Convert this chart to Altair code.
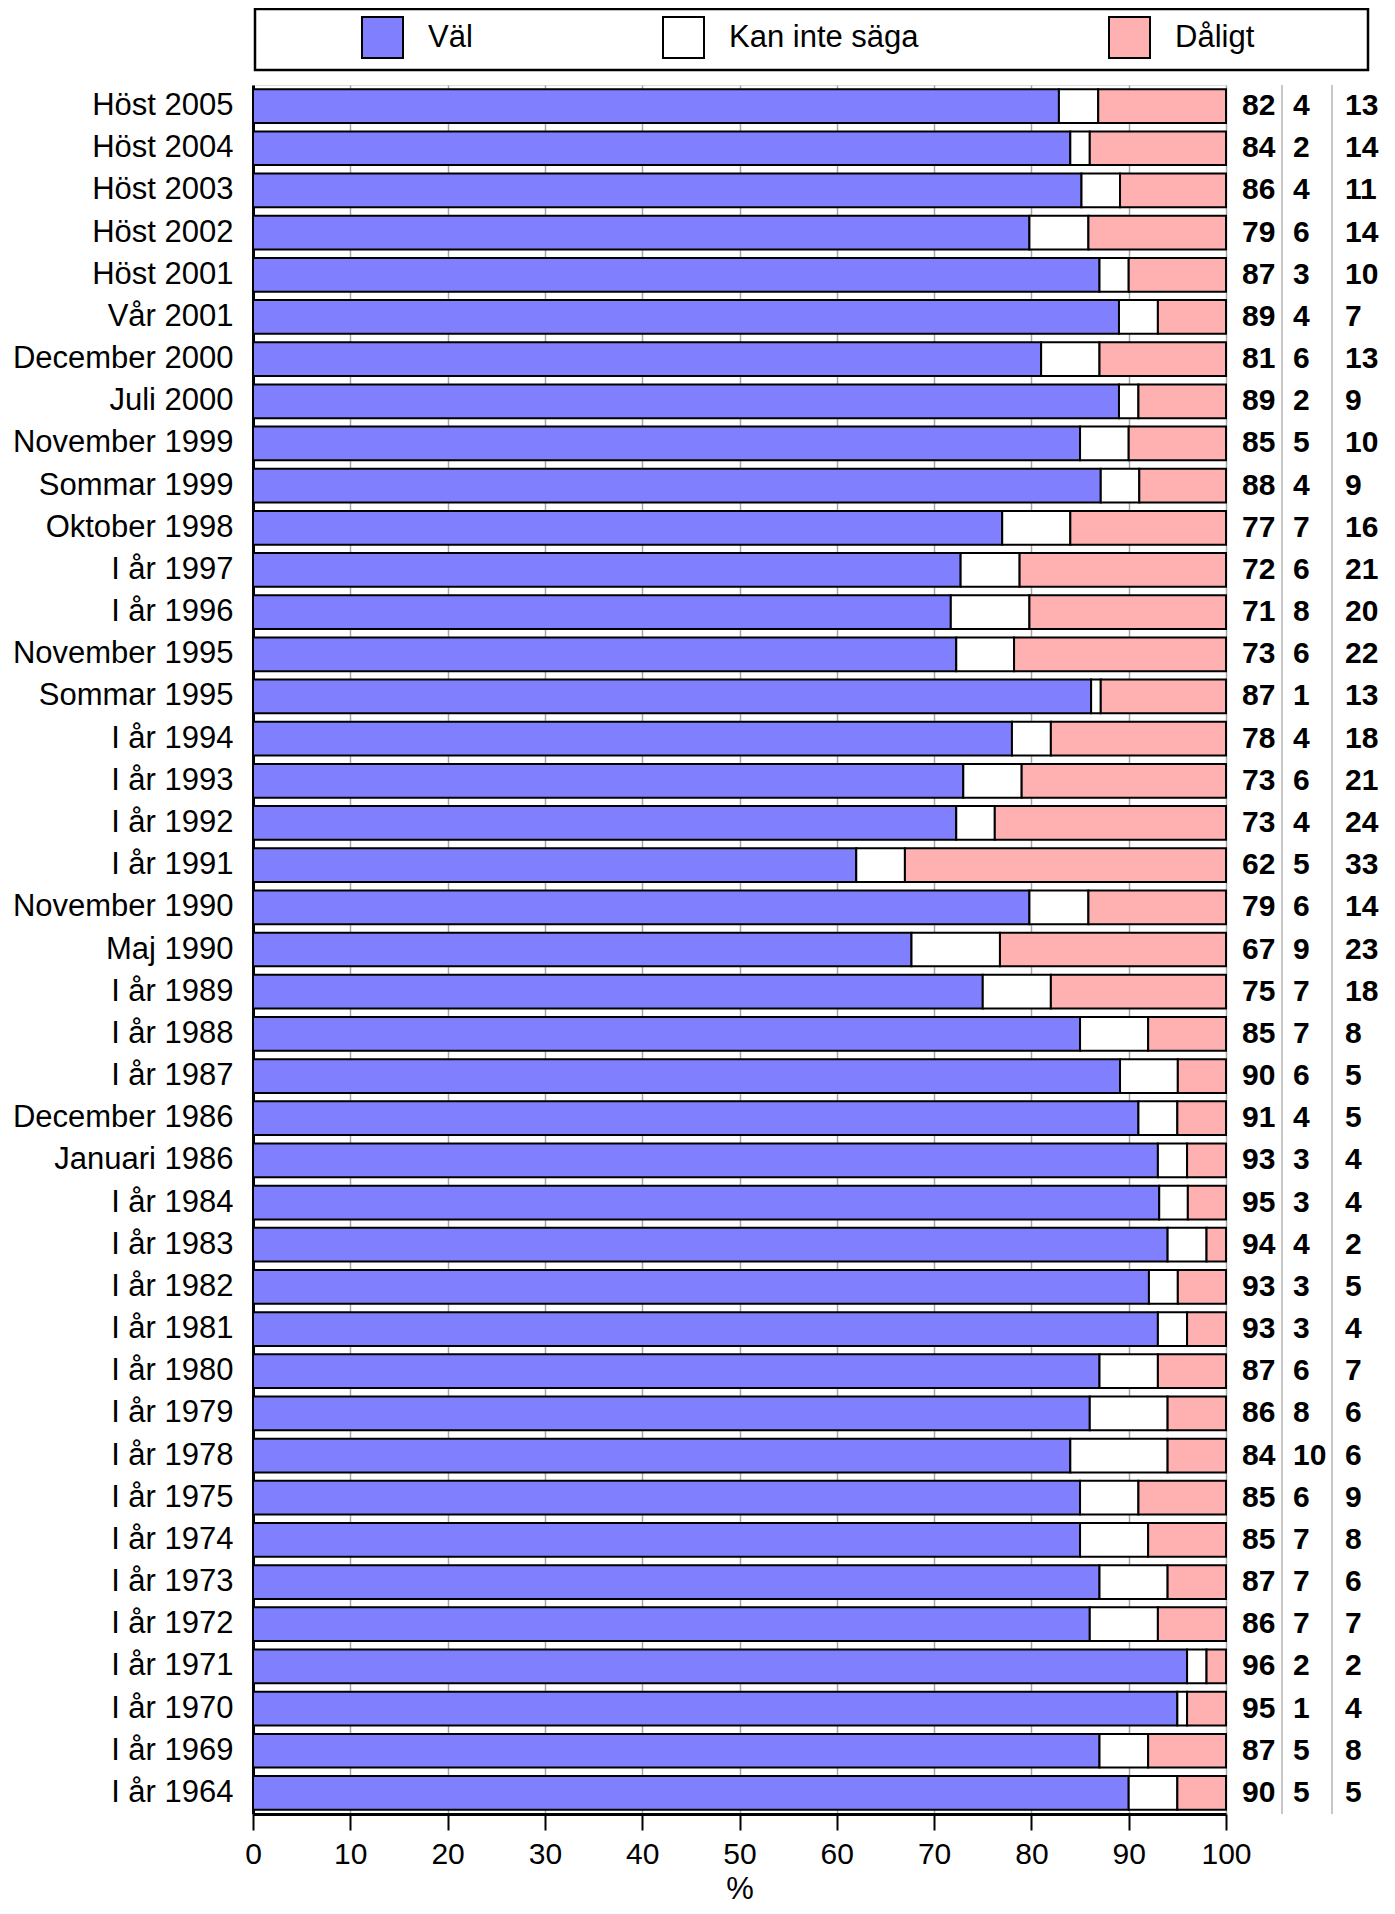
import altair as alt
import pandas as pd

periods = [
    "Höst 2005", "Höst 2004", "Höst 2003", "Höst 2002", "Höst 2001", "Vår 2001",
    "December 2000", "Juli 2000", "November 1999", "Sommar 1999", "Oktober 1998",
    "I år 1997", "I år 1996", "November 1995", "Sommar 1995", "I år 1994",
    "I år 1993", "I år 1992", "I år 1991", "November 1990", "Maj 1990",
    "I år 1989", "I år 1988", "I år 1987", "December 1986", "Januari 1986",
    "I år 1984", "I år 1983", "I år 1982", "I år 1981", "I år 1980",
    "I år 1979", "I år 1978", "I år 1975", "I år 1974", "I år 1973",
    "I år 1972", "I år 1971", "I år 1970", "I år 1969", "I år 1964",
]
val = [82, 84, 86, 79, 87, 89, 81, 89, 85, 88, 77, 72, 71, 73, 87, 78, 73, 73, 62, 79, 67,
       75, 85, 90, 91, 93, 95, 94, 93, 93, 87, 86, 84, 85, 85, 87, 86, 96, 95, 87, 90]
kan = [4, 2, 4, 6, 3, 4, 6, 2, 5, 4, 7, 6, 8, 6, 1, 4, 6, 4, 5, 6, 9,
       7, 7, 6, 4, 3, 3, 4, 3, 3, 6, 8, 10, 6, 7, 7, 7, 2, 1, 5, 5]
dal = [13, 14, 11, 14, 10, 7, 13, 9, 10, 9, 16, 21, 20, 22, 13, 18, 21, 24, 33, 14, 23,
       18, 8, 5, 5, 4, 4, 2, 5, 4, 7, 6, 6, 9, 8, 6, 7, 2, 4, 8, 5]
categories = ["Väl", "Kan inte säga", "Dåligt"]
colors = ["#8080ff", "#ffffff", "#ffb0b0"]

FONT = "Liberation Sans"
W, H = 973, 1729

rows = []
for i, p in enumerate(periods):
    for k, (c, v) in enumerate(zip(categories, [val[i], kan[i], dal[i]])):
        rows.append({"period": p, "kategori": c, "value": v, "ord": k})
long_df = pd.DataFrame(rows)
wide_df = pd.DataFrame({"period": periods, "val": val, "kan": kan, "dal": dal})
dummy = pd.DataFrame({"k": [0]})

y_enc = alt.Y(
    "period:N", sort=periods, title=None,
    scale=alt.Scale(paddingInner=0.2, paddingOuter=0.1),
    axis=alt.Axis(labelFontSize=31, labelFont=FONT, labelColor="black", labelPadding=20,
                  labelLimit=0, ticks=False, domainColor="black", domainWidth=3, grid=False),
)

bars = (
    alt.Chart(long_df)
    .transform_joinaggregate(total="sum(value)", groupby=["period"])
    .transform_calculate(pct="100 * datum.value / datum.total")
    .mark_bar(stroke="black", strokeWidth=2, opacity=1)
    .encode(
        y=y_enc,
        x=alt.X(
            "pct:Q", stack="zero", title="%",
            scale=alt.Scale(domain=[0, 100], nice=False),
            axis=alt.Axis(values=list(range(0, 101, 10)), tickSize=16, tickWidth=2,
                          tickColor="black", domainColor="black", domainWidth=3,
                          labelFontSize=30, labelFont=FONT, labelColor="black",
                          labelPadding=9, labelFlush=False, labelOverlap=False,
                          grid=True, gridColor="#a6a6a6", gridWidth=1.5,
                          titleFontSize=31, titleFont=FONT, titleFontWeight="normal",
                          titleColor="black", titleBaseline="alphabetic", titleY=84),
        ),
        color=alt.Color(
            "kategori:N",
            scale=alt.Scale(domain=categories, range=colors),
            legend=alt.Legend(
                title=None, orient="none", legendX=108, legendY=-69,
                direction="horizontal", columns=3, symbolType="square",
                symbolSize=1681, symbolStrokeColor="black", symbolStrokeWidth=2,
                symbolOpacity=1, labelFontSize=31, labelFont=FONT, labelColor="black",
                labelLimit=0, labelOffset=24, columnPadding=186, padding=0, gridAlign="each",
            ),
        ),
        order=alt.Order("ord:Q"),
    )
)

frame = alt.Chart(dummy).mark_rect(fillOpacity=0, stroke="black", strokeWidth=2.5).encode(
    x=alt.value(2), x2=alt.value(1115), y=alt.value(-76), y2=alt.value(-15)
)

sep1 = alt.Chart(dummy).mark_rule(color="#c8c8c8", strokeWidth=2).encode(
    x=alt.value(1029), y=alt.value(0), y2=alt.value(H)
)
sep2 = alt.Chart(dummy).mark_rule(color="#c8c8c8", strokeWidth=2).encode(
    x=alt.value(1079), y=alt.value(0), y2=alt.value(H)
)


def col_text(field, xpos):
    return alt.Chart(wide_df).mark_text(
        align="left", baseline="middle", fontSize=30, fontWeight="bold", font=FONT, color="black"
    ).encode(y=y_enc, x=alt.value(xpos), text=alt.Text(f"{field}:Q"))


chart = (
    alt.layer(frame, bars, sep1, sep2, col_text("val", 989), col_text("kan", 1040), col_text("dal", 1092))
    .properties(
        width=W, height=H, autosize="none",
        padding={"left": 245, "top": 77, "right": 161, "bottom": 92},
        background="white",
    )
    .configure_view(stroke="#a6a6a6", strokeWidth=1.5)
    .configure(font=FONT)
)

chart.save("out.html", embed_options={"renderer": "svg", "actions": False})
